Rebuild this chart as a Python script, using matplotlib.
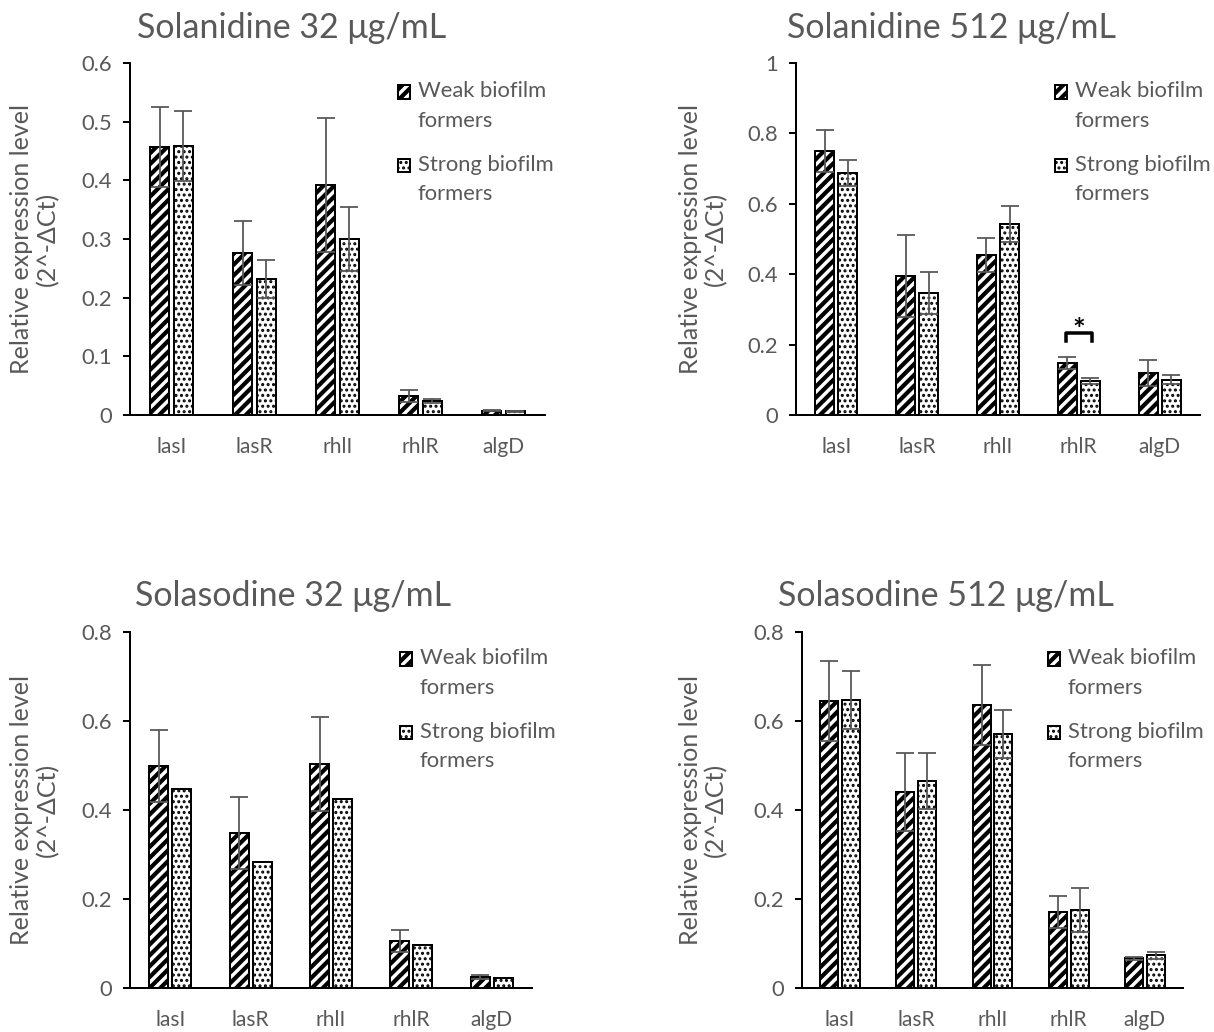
import matplotlib
matplotlib.use("Agg")
import matplotlib.pyplot as plt
from matplotlib.patches import Patch, Rectangle
from matplotlib.legend_handler import HandlerPatch
import numpy as np

plt.rcParams['font.family'] = ['Lato', 'DejaVu Sans']
plt.rcParams['hatch.linewidth'] = 2.2

DPI = 130
def px(v):
    return v * 72.0 / DPI

genes = ["lasI", "lasR", "rhlI", "rhlR", "algD"]
series_names = ["Weak biofilm\nformers", "Strong biofilm\nformers"]

titles = ["Solanidine 32 μg/mL", "Solanidine 512 μg/mL",
          "Solasodine 32 μg/mL", "Solasodine 512 μg/mL"]

# Solanidine 32
sn32_weak = [0.457, 0.276, 0.392, 0.032, 0.007]
sn32_weak_err = [0.068, 0.055, 0.114, 0.010, 0.001]
sn32_strong = [0.459, 0.232, 0.300, 0.024, 0.006]
sn32_strong_err = [0.060, 0.033, 0.054, 0.004, 0.001]

# Solanidine 512
sn512_weak = [0.750, 0.395, 0.455, 0.148, 0.119]
sn512_weak_err = [0.060, 0.116, 0.048, 0.017, 0.037]
sn512_strong = [0.687, 0.347, 0.543, 0.097, 0.100]
sn512_strong_err = [0.037, 0.060, 0.051, 0.008, 0.013]

# Solasodine 32
ss32_weak = [0.499, 0.348, 0.503, 0.106, 0.025]
ss32_weak_err = [0.080, 0.081, 0.106, 0.025, 0.004]
ss32_strong = [0.447, 0.283, 0.425, 0.097, 0.023]
ss32_strong_err = [0, 0, 0, 0, 0]

# Solasodine 512
ss512_weak = [0.645, 0.440, 0.636, 0.171, 0.067]
ss512_weak_err = [0.090, 0.088, 0.090, 0.036, 0.003]
ss512_strong = [0.647, 0.465, 0.571, 0.175, 0.074]
ss512_strong_err = [0.065, 0.063, 0.054, 0.050, 0.008]

y_max = [0.6, 1.0, 0.8, 0.8]
y_step = [0.1, 0.2, 0.2, 0.2]
y_fmt = [["0", "0.1", "0.2", "0.3", "0.4", "0.5", "0.6"],
         ["0", "0.2", "0.4", "0.6", "0.8", "1"],
         ["0", "0.2", "0.4", "0.6", "0.8"],
         ["0", "0.2", "0.4", "0.6", "0.8"]]

panels = [
    (sn32_weak, sn32_weak_err, sn32_strong, sn32_strong_err),
    (sn512_weak, sn512_weak_err, sn512_strong, sn512_strong_err),
    (ss32_weak, ss32_weak_err, ss32_strong, ss32_strong_err),
    (ss512_weak, ss512_weak_err, ss512_strong, ss512_strong_err),
]

W, H = 1214, 1032
fig = plt.figure(figsize=(W / DPI, H / DPI), dpi=DPI)

# axes boxes in pixels: left, right, top, bottom
boxes = [(130, 545, 63, 415), (796, 1200, 63, 415),
         (130, 532, 632, 988), (802, 1183, 632, 988)]
title_pos = [(137, 28), (787, 28), (135, 596), (778, 596)]
ylabel_x = [(22, 48), (690, 716), (22, 48), (690, 716)]
legend_anchor = [(398, 81), (1055, 81), (400, 648), (1048, 648)]

grey = "#595959"
bw = 0.235
off = 0.143
WEAK_HATCH = "////"
STRONG_HATCH = "...."


def style_hatch(patch, lw_pt):
    if hasattr(patch, "set_hatch_linewidth"):
        patch.set_hatch_linewidth(lw_pt)


HANDLE_SHIFT = px(14)


def make_handle(legend, orig_handle, xdescent, ydescent, width, height,
                fontsize):
    rect = Rectangle((-xdescent, -ydescent + HANDLE_SHIFT), width, height)
    return rect


class TopHandler(HandlerPatch):
    def __init__(self, hatch_lw):
        super().__init__(patch_func=make_handle)
        self.hatch_lw = hatch_lw

    def create_artists(self, legend, orig_handle, xdescent, ydescent, width,
                       height, fontsize, trans):
        arts = super().create_artists(legend, orig_handle, xdescent, ydescent,
                                      width, height, fontsize, trans)
        for a in arts:
            a.set_hatch(orig_handle.get_hatch())
            style_hatch(a, self.hatch_lw)
        return arts


for k, (box, data) in enumerate(zip(boxes, panels)):
    l, r, t, b = box
    ax = fig.add_axes([l / W, 1 - b / H, (r - l) / W, (b - t) / H])
    weak, weak_err, strong, strong_err = data
    x = np.arange(len(genes))
    b1 = ax.bar(x - off, weak, bw, color="white", edgecolor="black",
                hatch=WEAK_HATCH, linewidth=px(2.0), zorder=2)
    b2 = ax.bar(x + off, strong, bw, color="white", edgecolor="black",
                hatch=STRONG_HATCH, linewidth=px(2.0), zorder=2)
    for p in b1:
        style_hatch(p, px(4.2))
    for p in b2:
        style_hatch(p, px(2.0))
    ax.errorbar(x - off, weak, yerr=weak_err, fmt="none", ecolor=grey,
                elinewidth=px(1.8), capsize=px(9), capthick=px(1.8), zorder=3)
    se = np.array(strong_err)
    mask = se > 0
    if mask.any():
        ax.errorbar((x + off)[mask], np.array(strong)[mask], yerr=se[mask],
                    fmt="none", ecolor=grey, elinewidth=px(1.8),
                    capsize=px(9), capthick=px(1.8), zorder=3)
    ax.set_xlim(-0.5, len(genes) - 0.5)
    ax.set_ylim(0, y_max[k])
    ax.set_yticks(np.arange(0, y_max[k] + 1e-9, y_step[k]))
    ax.set_yticklabels(y_fmt[k])
    ax.set_xticks(x)
    ax.set_xticklabels(genes)
    for s in ["top", "right"]:
        ax.spines[s].set_visible(False)
    ax.spines["left"].set_linewidth(px(2))
    ax.spines["bottom"].set_linewidth(px(2))
    ax.tick_params(axis="y", direction="out", length=px(7), width=px(2),
                   labelsize=px(22), labelcolor=grey, pad=px(11))
    ax.tick_params(axis="x", length=0, labelsize=px(21), labelcolor=grey,
                   pad=px(22))
    ax.patch.set_alpha(0)

    h1 = Patch(facecolor="white", edgecolor="black", hatch=WEAK_HATCH,
               linewidth=px(2.0))
    h2 = Patch(facecolor="white", edgecolor="black", hatch=STRONG_HATCH,
               linewidth=px(2.0))
    lx, ly = legend_anchor[k]
    leg = fig.legend([h1, h2], series_names, loc="upper left",
                     bbox_to_anchor=(lx / W, 1 - ly / H), frameon=False,
                     fontsize=px(22), handlelength=0.55, handleheight=0.55,
                     handletextpad=0.35, labelspacing=1.1, labelcolor=grey,
                     borderpad=0, borderaxespad=0,
                     handler_map={h1: TopHandler(px(4.2)),
                                  h2: TopHandler(px(2.0))})
    for txt in leg.get_texts():
        txt.set_linespacing(1.6)

    tx, ty = title_pos[k]
    fig.text(tx / W, 1 - ty / H, titles[k], fontsize=px(34), color=grey,
             ha="left", va="center")
    yl1, yl2 = ylabel_x[k]
    yc = (t + b) / 2
    fig.text(yl1 / W, 1 - yc / H, "Relative expression level", rotation=90,
             fontsize=px(25), color=grey, ha="center", va="center")
    fig.text(yl2 / W, 1 - yc / H, "(2^-ΔCt)", rotation=90,
             fontsize=px(25), color=grey, ha="center", va="center")

    if k == 1:
        # significance bracket on rhlR
        xl, xr = 3 - off - 0.02, 3 + off + 0.02
        yb, ytop = 0.21, 0.232
        ax.plot([xl, xl, xr, xr], [yb, ytop, ytop, yb], color="black",
                lw=px(3.5), solid_joinstyle="round", clip_on=False)
        ax.text(3, 0.24, "*", ha="center", va="center", fontsize=px(30),
                fontweight="bold", color="black")

fig.savefig("out.png", dpi=DPI)
